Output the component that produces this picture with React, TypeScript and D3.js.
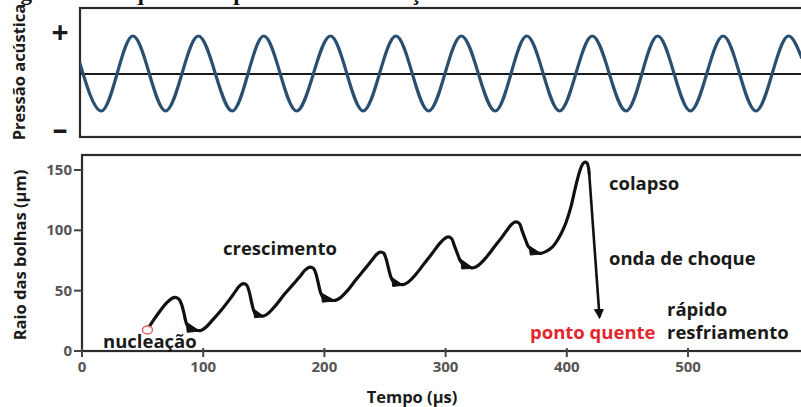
import React from 'react';
import * as d3 from 'd3';

// ---------- data ----------
const xTicks = [0, 100, 200, 300, 400, 500];
const yTicks = [0, 50, 100, 150];

// acoustic pressure extremes (time in µs), +1 = peak, -1 = trough
const pressurePeaks = [42, 96, 150, 205, 259, 313, 367, 421, 475, 529, 583];
const pressureTroughs = [16, 69, 124, 177, 232, 286, 341, 394, 449, 502, 556];
const pressureEnds: [number, number][] = [[-2, 0.3], [594, 0.4]];

// bubble radius (µm) vs time (µs)
const bubbleRadius: [number, number][] = [
  [56, 21], [60, 27], [65, 34], [70, 40], [74, 43.5], [77, 44.5], [80, 43], [82, 39], [84, 32], [85.5, 25], [87, 21],
  [90, 18.5], [94, 17.2], [98, 17], [102, 19.5], [108, 26], [115, 34], [122, 43], [127, 50], [130, 54], [133, 55.8],
  [136, 54.5], [138, 49], [140, 40], [141.5, 34], [143, 31], [146, 29.5], [150, 29], [154, 31.5], [160, 38], [167, 47],
  [174, 55], [180, 62], [184, 67], [188, 69.5], [191, 68.5], [193, 64], [195, 56], [197, 48], [199, 44.5], [203, 42.5],
  [209, 42], [213, 44], [219, 50], [226, 59], [233, 67.5], [239, 75], [243, 80], [246, 82], [249, 81], [251, 76],
  [253, 68], [255, 61], [257, 57.5], [261, 55.5], [265, 55], [269, 57], [275, 63], [282, 72], [289, 81], [295, 89],
  [299, 93], [302, 94.5], [305, 93], [307, 88], [310, 80], [312, 75], [315, 72], [319, 69.5], [323, 69], [327, 71],
  [333, 77], [340, 86], [347, 95], [352, 102], [355, 105.5], [358, 107], [361, 105.5], [363, 100], [366, 92], [368, 87],
  [371, 84], [375, 81.5], [379, 81], [383, 82.5], [388, 86], [393, 93], [398, 103], [403, 118], [407, 135], [411, 150],
  [414, 156], [416.5, 156], [418.5, 147],
];
// rebound oscillation wedges: [tTop, rTop, rBottom, tEnd, rEnd]
const reboundWedges: [number, number, number, number, number][] = [
  [86, 24, 15.5, 97, 16.5],
  [141.5, 35, 27.5, 150, 28.5],
  [197.5, 48, 40.5, 209, 41.5],
  [255.5, 61, 53.5, 265, 54.5],
  [312.5, 76, 68, 323, 68.5],
  [369, 87, 79.5, 379, 80.5],
];
const collapseArrow: [number, number][] = [[418.5, 147], [427, 28]];
const nucleationPoint: [number, number] = [54, 17.5];

// ---------- layout ----------
const W = 801, H = 407;
const x = d3.scaleLinear().domain([0, 500]).range([82, 688]);
const y = d3.scaleLinear().domain([0, 150]).range([351, 170]);
const yP = d3.scaleLinear().domain([-1, 1]).range([111, 36]);

const FONT = "'Open Sans', 'DejaVu Sans', sans-serif";

export default function App() {
  const pressurePts: [number, number][] = [
    ...pressurePeaks.map((t) => [t, 1] as [number, number]),
    ...pressureTroughs.map((t) => [t, -1] as [number, number]),
    ...pressureEnds,
  ].sort((a, b) => a[0] - b[0]);

  const pressureLine = d3.line<[number, number]>()
    .x((d) => x(d[0]))
    .y((d) => yP(d[1]))
    .curve(d3.curveMonotoneX);

  const radiusLine = d3.line<[number, number]>()
    .x((d) => x(d[0]))
    .y((d) => y(d[1]))
    .curve(d3.curveCatmullRom.alpha(0.5));

  const straight = d3.line<[number, number]>().x((d) => x(d[0])).y((d) => y(d[1]));

  const annot = { fontFamily: FONT, fontWeight: 700, fontSize: 18.5 } as const;

  return (
    <svg width={W} height={H} style={{ position: 'absolute', left: 0, top: 0, background: '#fff' }}>
      <defs>
        <clipPath id="topClip">
          <rect x={80} y={8} width={730} height={129} />
        </clipPath>
        <marker id="arrow" viewBox="0 0 10 10" refX={8} refY={5} markerWidth={4} markerHeight={4} orient="auto">
          <path d="M0,0 L10,5 L0,10 Z" fill="#111" />
        </marker>
      </defs>
      <rect x={0} y={0} width={W} height={H} fill="#fff" />

      {/* clipped title (only its lower edge is visible) */}
      <text x={0} y={0} fontFamily="'Liberation Serif', serif" fontWeight={700} fontSize={23} fill="#111">
        Figura 1 – Esquema do processo de cavitação acústica
      </text>

      {/* ---------- top panel ---------- */}
      <rect x={80} y={8} width={740} height={129} fill="#fff" stroke="#2b2b2b" strokeWidth={2.2} />
      <line x1={80} x2={W} y1={74} y2={74} stroke="#1a1a1a" strokeWidth={2.2} />
      <g clipPath="url(#topClip)">
        <path d={pressureLine(pressurePts) ?? ''} fill="none" stroke="#2a4f70" strokeWidth={3.2} />
      </g>
      <text x={25} y={72} transform="rotate(-90 25 72)" textAnchor="middle" fontFamily={FONT} fontWeight={700} fontSize={16.5} fill="#1a1a1a">
        Pressão acústica
      </text>
      <text x={60} y={43} textAnchor="middle" fontFamily={FONT} fontWeight={700} fontSize={30} fill="#1a1a1a">+</text>
      <text x={60} y={140} textAnchor="middle" fontFamily={FONT} fontWeight={700} fontSize={30} fill="#1a1a1a">–</text>

      {/* ---------- bottom panel ---------- */}
      <rect x={82} y={155} width={740} height={196} fill="#fff" stroke="#2b2b2b" strokeWidth={2.2} />
      {yTicks.map((v) => (
        <g key={'y' + v}>
          <line x1={74} x2={82} y1={y(v)} y2={y(v)} stroke="#444" strokeWidth={2} />
          <text x={72} y={y(v) + 5} textAnchor="end" fontFamily={FONT} fontWeight={700} fontSize={15} fill="#555">{v}</text>
        </g>
      ))}
      {xTicks.map((v) => (
        <g key={'x' + v}>
          <line x1={x(v)} x2={x(v)} y1={348} y2={357} stroke="#444" strokeWidth={2} />
          <text x={x(v)} y={372} textAnchor="middle" fontFamily={FONT} fontWeight={700} fontSize={15} fill="#555">{v}</text>
        </g>
      ))}
      <text x={26} y={255} transform="rotate(-90 26 255)" textAnchor="middle" fontFamily={FONT} fontWeight={700} fontSize={16.5} fill="#1a1a1a">
        Raio das bolhas (µm)
      </text>
      <text x={412} y={403} textAnchor="middle" fontFamily={FONT} fontWeight={700} fontSize={16.5} fill="#1a1a1a">
        Tempo (µs)
      </text>

      {/* rebound wedges */}
      {reboundWedges.map((w, i) => (
        <path key={'w' + i}
          d={`M${x(w[0])},${y(w[1])} L${x(w[0]) + 1},${y(w[2])} L${x(w[3])},${y(w[4])} Z`}
          fill="#111" stroke="#111" strokeWidth={1} />
      ))}
      <path d={radiusLine(bubbleRadius) ?? ''} fill="none" stroke="#111" strokeWidth={3.2} strokeLinejoin="round" strokeLinecap="round" />
      <path d={straight(collapseArrow) ?? ''} fill="none" stroke="#111" strokeWidth={2.6} markerEnd="url(#arrow)" />
      <ellipse cx={x(nucleationPoint[0])} cy={y(nucleationPoint[1])} rx={5} ry={4} fill="none" stroke="#e0606a" strokeWidth={1.5} />

      {/* annotations */}
      <text x={223} y={255} {...annot} fill="#1a1a1a">crescimento</text>
      <text x={103} y={348} {...annot} fill="#1a1a1a">nucleação</text>
      <text x={609} y={190} {...annot} fill="#1a1a1a">colapso</text>
      <text x={609} y={265} {...annot} fill="#1a1a1a">onda de choque</text>
      <text x={667} y={316} {...annot} fill="#1a1a1a">rápido</text>
      <text x={667} y={339} {...annot} fill="#1a1a1a">resfriamento</text>
      <text x={530} y={339} {...annot} fill="#e3262e">ponto quente</text>
    </svg>
  );
}
